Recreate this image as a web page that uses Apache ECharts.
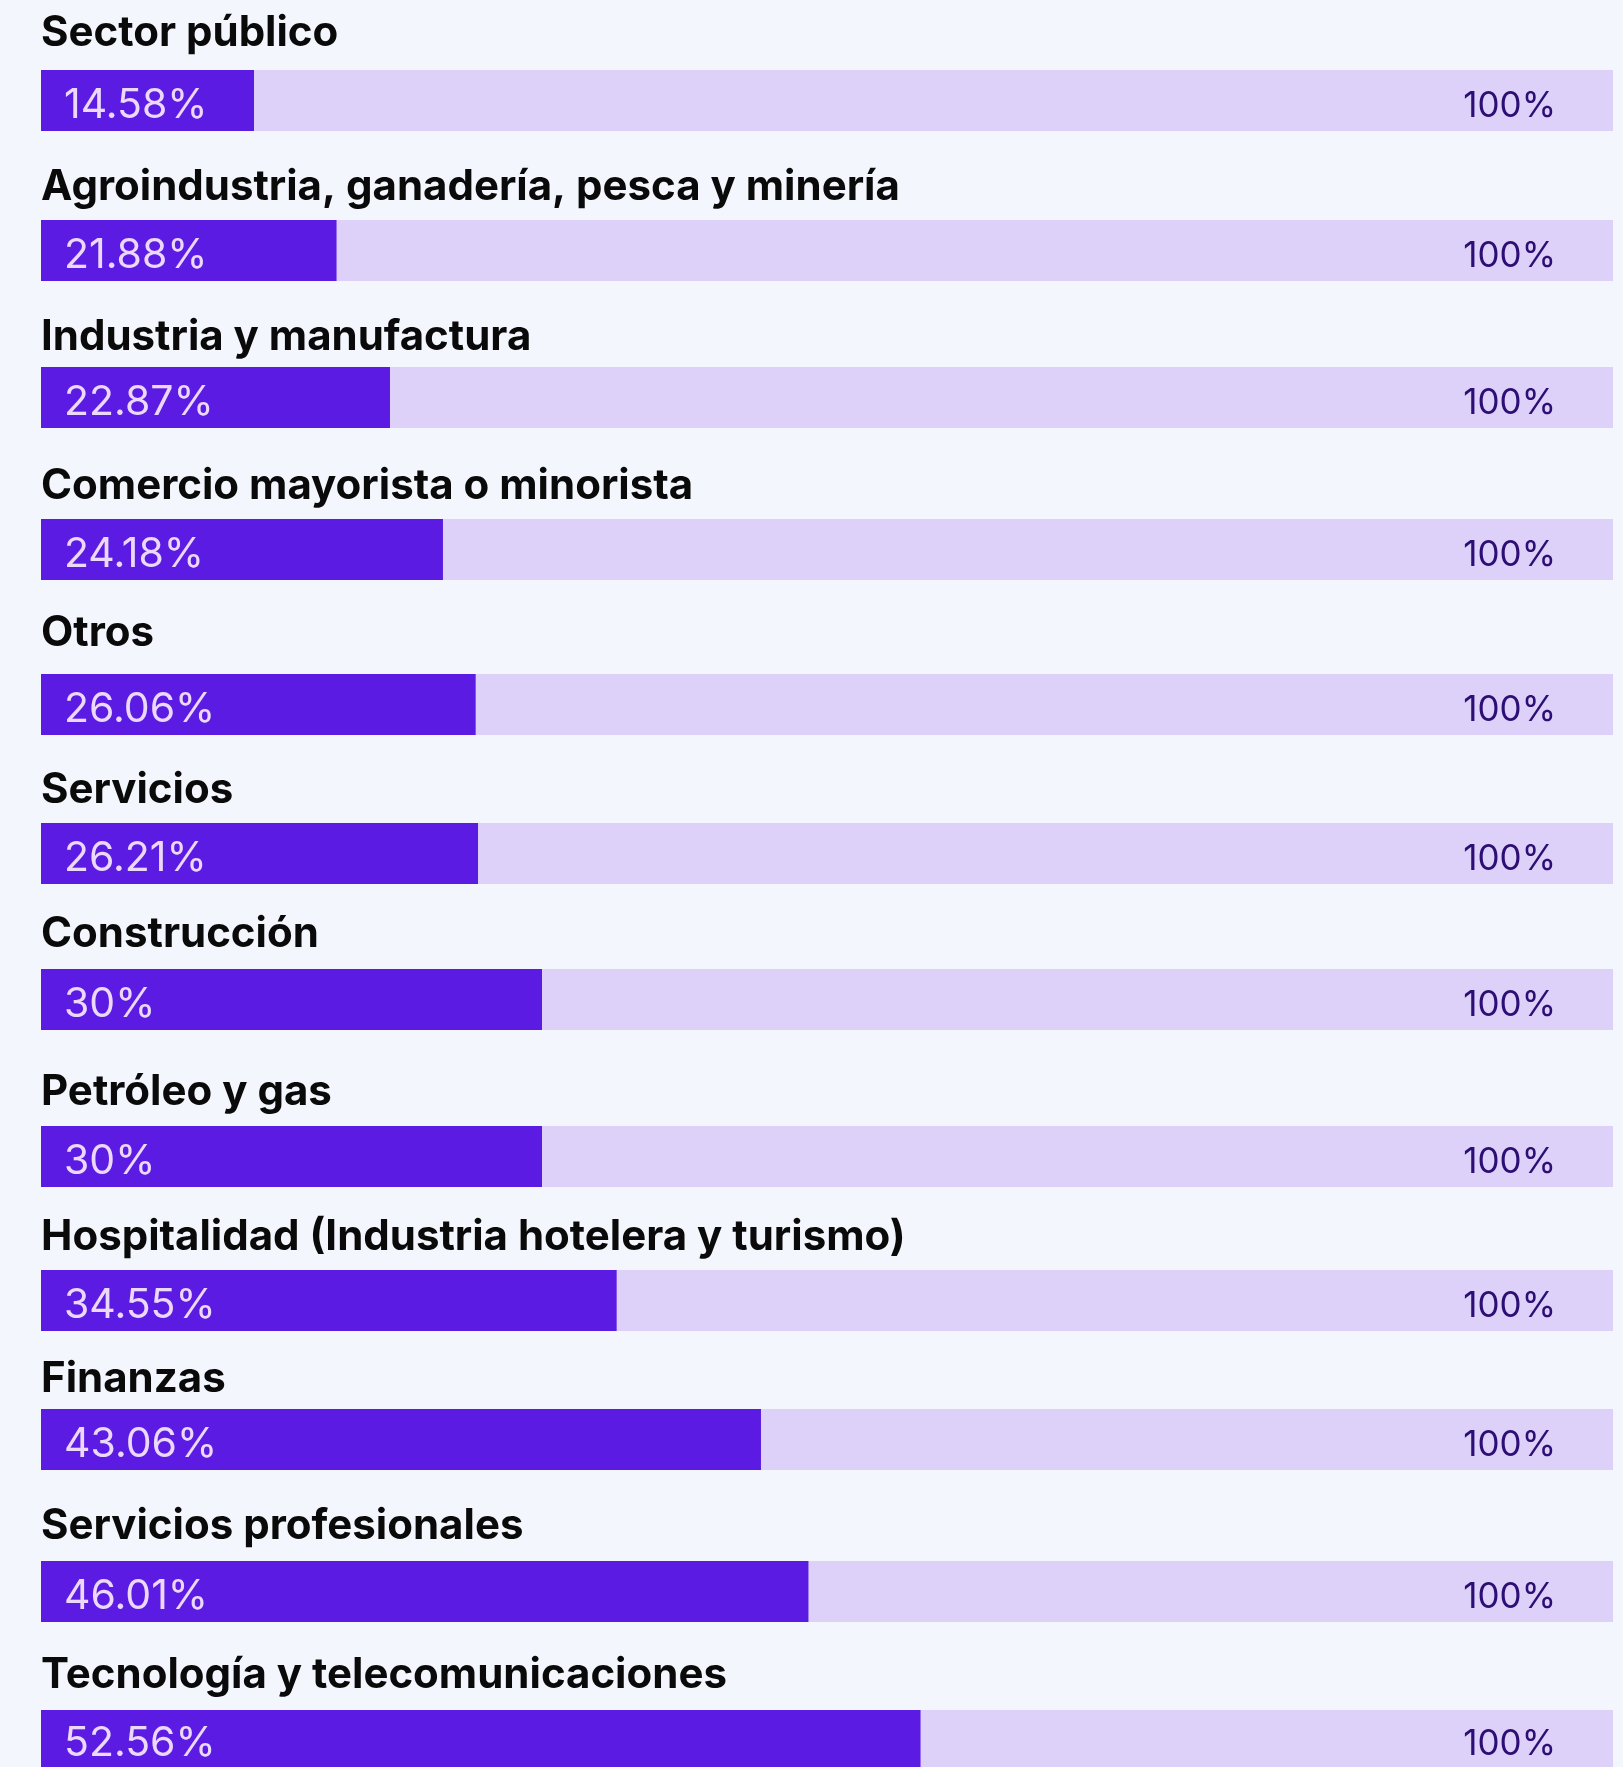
<!DOCTYPE html>
<html>
<head>
<meta charset="utf-8">
<script src="https://cdn.jsdelivr.net/npm/echarts@6/dist/echarts.min.js"></script>
<style>
  html, body { margin: 0; padding: 0; background: #f3f6fd; }
  #chart { width: 1623px; height: 1767px; }
</style>
</head>
<body>
<div id="chart"></div>
<script>
// ---- data ----
const categories = [
  'Sector público',
  'Agroindustria, ganadería, pesca y minería',
  'Industria y manufactura',
  'Comercio mayorista o minorista',
  'Otros',
  'Servicios',
  'Construcción',
  'Petróleo y gas',
  'Hospitalidad (Industria hotelera y turismo)',
  'Finanzas',
  'Servicios profesionales',
  'Tecnología y telecomunicaciones'
];
const valueLabels = ['14.58%', '21.88%', '22.87%', '24.18%', '26.06%', '26.21%', '30%', '30%', '34.55%', '43.06%', '46.01%', '52.56%'];
// filled length of each bar, as a share of the 0–100 track, as drawn in the picture
const barLengths = [13.55, 18.8, 22.2, 25.57, 27.65, 27.8, 31.87, 31.87, 36.62, 45.8, 48.82, 55.95];
const trackMax = 100;
const trackLabel = '100%';

// ---- layout ----
const barTops = [70, 220, 367, 519, 674, 823, 969, 1126, 1270, 1409, 1561, 1710];
const titleYs = [32, 186, 336, 485, 632, 789, 933, 1091, 1236, 1378, 1525, 1674];
const barHeight = 61;
const LEFT = 41, RIGHT = 10;
const PURPLE = '#5b1be3', TRACK = '#ddd1f9', DARK = '#2c0e75', LIGHT = '#ecd8fb';

const chart = echarts.init(document.getElementById('chart'), null, { renderer: 'canvas' });

const grid = [], xAxis = [], yAxis = [], series = [], graphic = [];
categories.forEach((c, i) => {
  grid.push({ left: LEFT, right: RIGHT, top: barTops[i], height: barHeight, containLabel: false });
  xAxis.push({ gridIndex: i, type: 'value', min: 0, max: trackMax, show: false });
  yAxis.push({ gridIndex: i, type: 'category', data: [c], show: false });
  series.push({
    type: 'bar', xAxisIndex: i, yAxisIndex: i, data: [trackMax],
    barWidth: '100%', barGap: '-100%', silent: true, z: 1,
    itemStyle: { color: TRACK },
    label: {
      show: true, position: 'insideRight', distance: 57, formatter: trackLabel,
      color: DARK, fontFamily: 'Inter', fontSize: 35, fontWeight: 400, offset: [0, 6]
    }
  });
  series.push({
    type: 'bar', xAxisIndex: i, yAxisIndex: i, data: [barLengths[i]],
    barWidth: '100%', barGap: '-100%', silent: true, z: 2,
    itemStyle: { color: PURPLE },
    label: {
      show: true, position: 'insideLeft', distance: 23, formatter: valueLabels[i],
      color: LIGHT, fontFamily: 'Inter', fontSize: 41, fontWeight: 400, offset: [0, 5]
    }
  });
  graphic.push({
    type: 'text', left: LEFT, top: titleYs[i] - 20,
    style: { text: c, font: '700 42px Inter', fill: '#0a0a0a' }
  });
});

chart.setOption({
  backgroundColor: '#f3f6fd',
  animation: false,
  grid, xAxis, yAxis, series, graphic
});
</script>
</body>
</html>
